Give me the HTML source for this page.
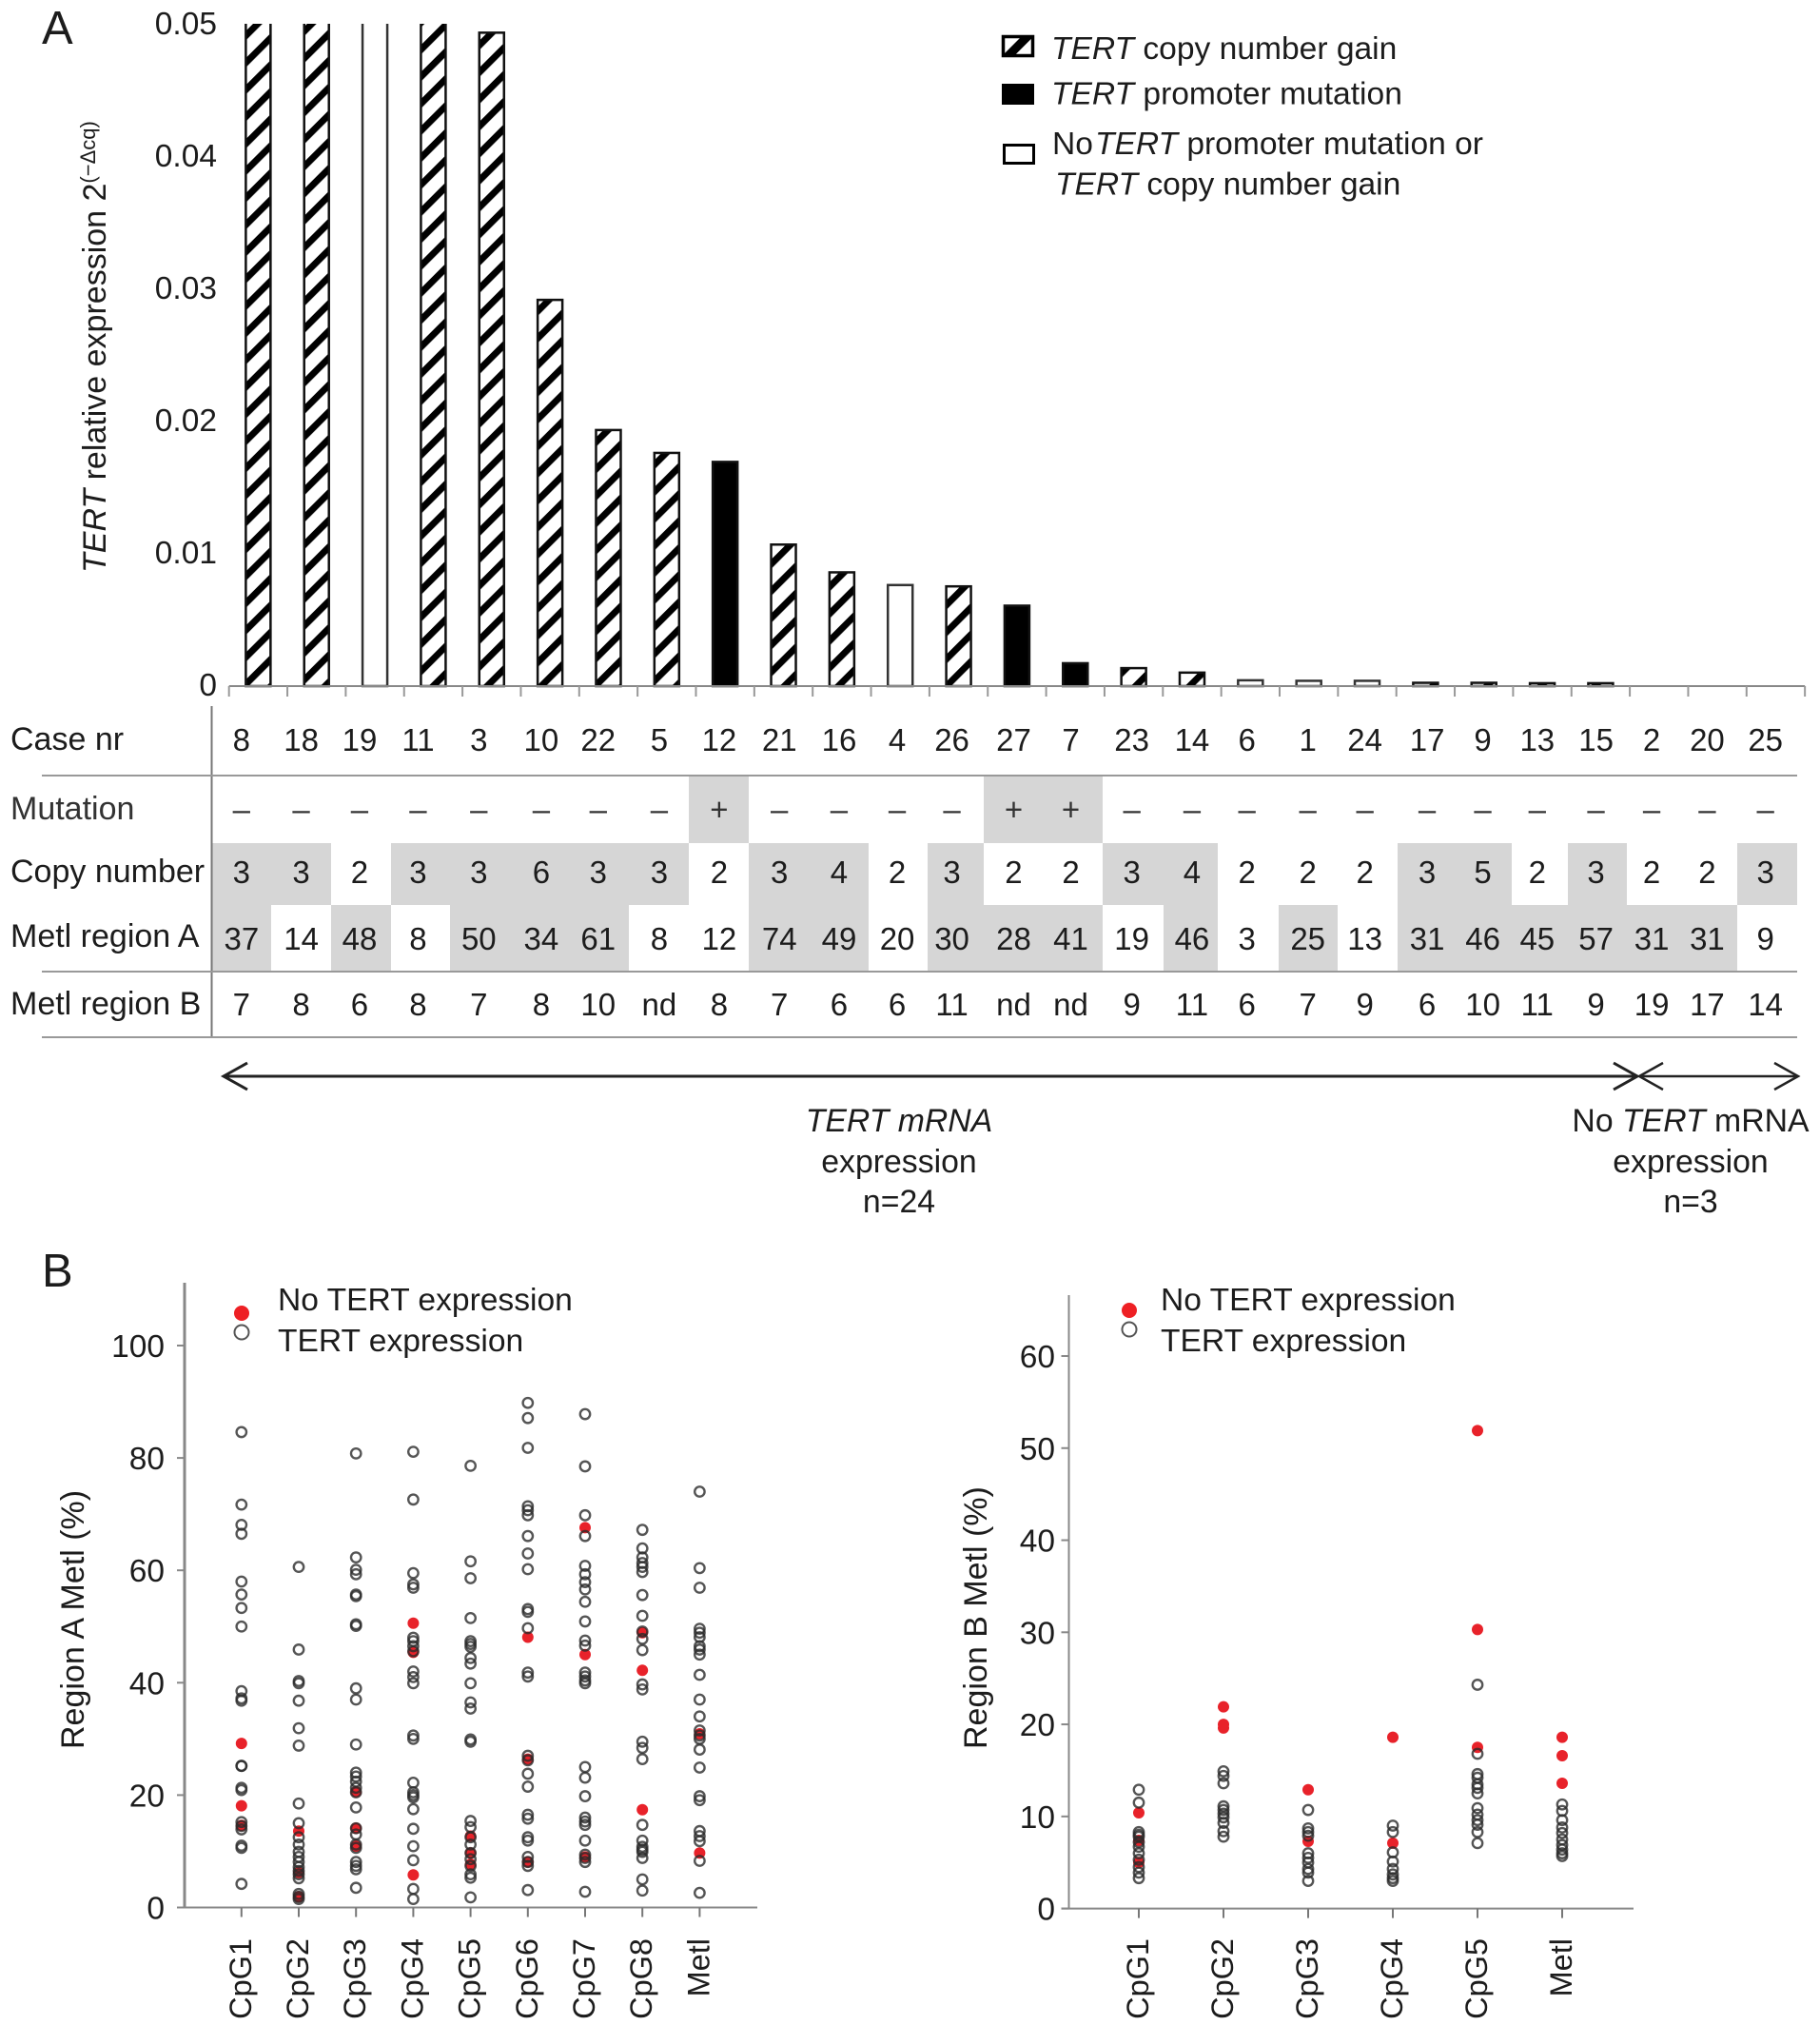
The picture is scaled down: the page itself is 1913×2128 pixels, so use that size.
<!DOCTYPE html>
<html lang="en">
<head>
<meta charset="utf-8">
<title>TERT expression and methylation</title>
<style>
html,body{margin:0;padding:0;background:#fff;}
#page{position:relative;width:1913px;height:2128px;overflow:hidden;background:#fff;font-family:"Liberation Sans",Arial,sans-serif;color:#1c1c1c;}
#figure{position:absolute;left:0;top:0;z-index:2;pointer-events:none;}
text{font-family:"Liberation Sans",Arial,sans-serif;fill:#1c1c1c;font-size:33.5px;}
#data-table{position:absolute;left:0;top:742px;border-collapse:collapse;border-spacing:0;table-layout:fixed;width:1889px;font-size:33px;z-index:1;}
#data-table td{padding:0;text-align:center;white-space:nowrap;overflow:visible;vertical-align:middle;}
#data-table td.l{text-align:left;padding-left:11px;font-size:34px;}
#data-table td.s{background:#d6d6d6;}
#data-table td span{position:relative;display:block;}
tr.r1{height:73px;} tr.r2{height:71px;} tr.r3{height:65px;} tr.r4{height:70px;} tr.r5{height:69px;}
tr.r1 span{top:-1px;} tr.r2 span{top:0;} tr.r3 span{top:-2px;} tr.r4 td span{top:0.5px;} tr.r4 td.l span{top:-2px;} tr.r5 span{top:0;}
tr.r2 td{color:#333;}
td:nth-child(4) span{left:-1.4px;} td:nth-child(5) span{left:-2.7px;} td:nth-child(6) span{left:-1.4px;} td:nth-child(7) span{left:1.4px;}
td:nth-child(8) span{left:-1.4px;} td:nth-child(13) span{left:-1px;} td:nth-child(14) span{left:-4px;} td:nth-child(16) span{left:-2.7px;}
td:nth-child(17) span{left:-1.4px;} td:nth-child(18) span{left:1.4px;} td:nth-child(19) span{left:-1.4px;} td:nth-child(21) span{left:-2.7px;}
td:nth-child(22) span{left:1.4px;} td:nth-child(24) span{left:-2.7px;} td:nth-child(25) span{left:-1.4px;} td:nth-child(26) span{left:-2.7px;}
td:nth-child(27) span{left:-2.7px;} td:nth-child(28) span{left:-2px;}
</style>
</head>
<body>
<div id="page">

<table id="data-table">
<colgroup>
<col style="width:222.3px"><col style="width:63.1px"><col style="width:62.4px"><col style="width:63.1px"><col style="width:62.5px"><col style="width:62.6px"><col style="width:63px"><col style="width:62.4px"><col style="width:63px"><col style="width:63.1px"><col style="width:63.5px"><col style="width:62px"><col style="width:62.2px"><col style="width:58.8px"><col style="width:63px"><col style="width:62.5px"><col style="width:63.2px"><col style="width:57.8px"><col style="width:63.2px"><col style="width:62.1px"><col style="width:63.2px"><col style="width:59.6px"><col style="width:60.2px"><col style="width:59.6px"><col style="width:61.4px"><col style="width:58.2px"><col style="width:58.5px"><col style="width:62.5px">
</colgroup>
<tr class="r1">
<td class="l"><span>Case nr</span></td>
<td><span>8</span></td><td><span>18</span></td><td><span>19</span></td><td><span>11</span></td><td><span>3</span></td><td><span>10</span></td><td><span>22</span></td><td><span>5</span></td><td><span>12</span></td><td><span>21</span></td><td><span>16</span></td><td><span>4</span></td><td><span>26</span></td><td><span>27</span></td><td><span>7</span></td><td><span>23</span></td><td><span>14</span></td><td><span>6</span></td><td><span>1</span></td><td><span>24</span></td><td><span>17</span></td><td><span>9</span></td><td><span>13</span></td><td><span>15</span></td><td><span>2</span></td><td><span>20</span></td><td><span>25</span></td>
</tr>
<tr class="r2">
<td class="l"><span>Mutation</span></td>
<td><span>–</span></td><td><span>–</span></td><td><span>–</span></td><td><span>–</span></td><td><span>–</span></td><td><span>–</span></td><td><span>–</span></td><td><span>–</span></td><td class="s"><span>+</span></td><td><span>–</span></td><td><span>–</span></td><td><span>–</span></td><td><span>–</span></td><td class="s"><span>+</span></td><td class="s"><span>+</span></td><td><span>–</span></td><td><span>–</span></td><td><span>–</span></td><td><span>–</span></td><td><span>–</span></td><td><span>–</span></td><td><span>–</span></td><td><span>–</span></td><td><span>–</span></td><td><span>–</span></td><td><span>–</span></td><td><span>–</span></td>
</tr>
<tr class="r3">
<td class="l"><span>Copy number</span></td>
<td class="s"><span>3</span></td><td class="s"><span>3</span></td><td><span>2</span></td><td class="s"><span>3</span></td><td class="s"><span>3</span></td><td class="s"><span>6</span></td><td class="s"><span>3</span></td><td class="s"><span>3</span></td><td><span>2</span></td><td class="s"><span>3</span></td><td class="s"><span>4</span></td><td><span>2</span></td><td class="s"><span>3</span></td><td><span>2</span></td><td><span>2</span></td><td class="s"><span>3</span></td><td class="s"><span>4</span></td><td><span>2</span></td><td><span>2</span></td><td><span>2</span></td><td class="s"><span>3</span></td><td class="s"><span>5</span></td><td><span>2</span></td><td class="s"><span>3</span></td><td><span>2</span></td><td><span>2</span></td><td class="s"><span>3</span></td>
</tr>
<tr class="r4">
<td class="l"><span>Metl region A</span></td>
<td class="s"><span>37</span></td><td><span>14</span></td><td class="s"><span>48</span></td><td><span>8</span></td><td class="s"><span>50</span></td><td class="s"><span>34</span></td><td class="s"><span>61</span></td><td><span>8</span></td><td><span>12</span></td><td class="s"><span>74</span></td><td class="s"><span>49</span></td><td><span>20</span></td><td class="s"><span>30</span></td><td class="s"><span>28</span></td><td class="s"><span>41</span></td><td><span>19</span></td><td class="s"><span>46</span></td><td><span>3</span></td><td class="s"><span>25</span></td><td><span>13</span></td><td class="s"><span>31</span></td><td class="s"><span>46</span></td><td class="s"><span>45</span></td><td class="s"><span>57</span></td><td class="s"><span>31</span></td><td class="s"><span>31</span></td><td><span>9</span></td>
</tr>
<tr class="r5">
<td class="l"><span>Metl region B</span></td>
<td><span>7</span></td><td><span>8</span></td><td><span>6</span></td><td><span>8</span></td><td><span>7</span></td><td><span>8</span></td><td><span>10</span></td><td><span>nd</span></td><td><span>8</span></td><td><span>7</span></td><td><span>6</span></td><td><span>6</span></td><td><span>11</span></td><td><span>nd</span></td><td><span>nd</span></td><td><span>9</span></td><td><span>11</span></td><td><span>6</span></td><td><span>7</span></td><td><span>9</span></td><td><span>6</span></td><td><span>10</span></td><td><span>11</span></td><td><span>9</span></td><td><span>19</span></td><td><span>17</span></td><td><span>14</span></td>
</tr>
</table>

<svg id="figure" width="1913" height="2128" viewBox="0 0 1913 2128" xmlns="http://www.w3.org/2000/svg">
<defs>
<pattern id="hatch" patternUnits="userSpaceOnUse" width="20.08" height="20.08" patternTransform="translate(7 0) rotate(45)">
<rect x="0" y="0" width="7" height="20.08" fill="#000"></rect>
</pattern>
<pattern id="legend-hatch" patternUnits="userSpaceOnUse" width="32" height="32" patternTransform="translate(1112 0) rotate(45)">
<rect x="0" y="0" width="9" height="32" fill="#000"></rect>
</pattern>
<clipPath id="bars-clip"><rect x="230" y="25" width="1680" height="700"></rect></clipPath>
</defs>

<text x="44" y="46" style="font-size:49px">A</text>
<text x="44" y="1352" style="font-size:49px">B</text>

<g id="chart-a">
<g id="bars" clip-path="url(#bars-clip)"></g>
<g id="axis-a"></g>
<text transform="translate(111 602) rotate(-90)" style="font-size:34px"><tspan font-style="italic">TERT</tspan> relative expression 2<tspan dy="-11" style="font-size:22px">(−Δcq)</tspan></text>
</g>

<g id="legend-a">
<g>
<rect x="1054.5" y="38.5" width="31" height="20" fill="#fff" stroke="none"></rect>
<rect x="1054.5" y="38.5" width="31" height="20" fill="url(#legend-hatch)" stroke="#000" stroke-width="3.5"></rect>
<text x="1105" y="62" style="font-size:33.6px"><tspan font-style="italic">TERT</tspan> copy number gain</text>
</g>
<g>
<rect x="1053" y="88" width="34" height="22" fill="#000"></rect>
<text x="1105" y="109.5" style="font-size:33.6px"><tspan font-style="italic">TERT</tspan> promoter mutation</text>
</g>
<g>
<rect x="1055.5" y="152.5" width="31" height="19" fill="#fff" stroke="#000" stroke-width="3"></rect>
<text x="1106" y="162" style="font-size:33.6px">No<tspan font-style="italic" dx="2">TERT</tspan> promoter mutation or</text>
<text x="1109" y="204.5" style="font-size:33.6px"><tspan font-style="italic">TERT</tspan> copy number gain</text>
</g>
</g>

<g stroke="#999" stroke-width="2">
<line x1="222.5" y1="742" x2="222.5" y2="1090" stroke="#777"></line>
<line x1="44" y1="815" x2="1889" y2="815"></line>
<line x1="44" y1="1021" x2="1889" y2="1021"></line>
<line x1="44" y1="1090" x2="1889" y2="1090"></line>
</g>

<g fill="none" stroke="#222" stroke-width="3">
<line x1="235" y1="1131" x2="1721" y2="1131"></line>
<polyline points="260,1117 235,1131 260,1145"></polyline>
<polyline points="1696,1117 1721,1131 1696,1145"></polyline>
<line x1="1723" y1="1131" x2="1890" y2="1131" stroke-width="2.5"></line>
<polyline points="1748,1117 1723,1131 1748,1145" stroke-width="2.5"></polyline>
<polyline points="1865,1117 1890,1131 1865,1145" stroke-width="2.5"></polyline>
</g>

<g text-anchor="middle">
<text x="945" y="1189" font-style="italic" style="font-size:33.8px">TERT mRNA</text>
<text x="945" y="1232" style="font-size:33.8px">expression</text>
<text x="945" y="1274" style="font-size:33.8px">n=24</text>
</g>
<g text-anchor="middle">
<text x="1777" y="1189" style="font-size:33.8px">No <tspan font-style="italic">TERT</tspan> mRNA</text>
<text x="1777" y="1232" style="font-size:33.8px">expression</text>
<text x="1777" y="1274" style="font-size:33.8px">n=3</text>
</g>

<g id="chart-b1"></g>
<g id="chart-b2"></g>

<text transform="translate(88 1838) rotate(-90)" style="font-size:34px">Region A Metl (%)</text>
<text transform="translate(1037 1838) rotate(-90)" style="font-size:34px">Region B Metl (%)</text>

<g>
<circle cx="254" cy="1380" r="8" fill="#ee2024"></circle>
<circle cx="254" cy="1400" r="7.5" fill="none" stroke="#555" stroke-width="2"></circle>
<text x="292" y="1377" style="font-size:33.6px">No TERT expression</text>
<text x="292" y="1420" style="font-size:33.6px">TERT expression</text>
</g>
<g>
<circle cx="1187" cy="1377" r="8" fill="#ee2024"></circle>
<circle cx="1187" cy="1397" r="7.5" fill="none" stroke="#555" stroke-width="2"></circle>
<text x="1220" y="1377" style="font-size:33.6px">No TERT expression</text>
<text x="1220" y="1420" style="font-size:33.6px">TERT expression</text>
</g>
</svg>
</div>

<script>
const SVGNS = 'http://www.w3.org/2000/svg';

// Panel A data
const caseNumbers = ['8','18','19','11','3','10','22','5','12','21','16','4','26','27','7','23','14','6','1','24','17','9','13','15','2','20','25'];
const expressionValues = [0.0505,0.0505,0.07,0.0503,0.0494,0.0292,0.01936,0.01763,0.01695,0.0107,0.0086,0.00764,0.00754,0.00608,0.00173,0.00136,0.00102,0.00044,0.0004,0.0004,0.00025,0.00025,0.00022,0.00022,0,0,0];
const barCategories = ['gain','gain','neither','gain','gain','gain','gain','gain','mutation','gain','gain','neither','gain','mutation','mutation','gain','gain','neither','neither','neither','gain','gain','gain','gain','neither','neither','gain'];
const expressionTicks = [0,0.01,0.02,0.03,0.04,0.05];
const expressionTickLabels = ['0','0.01','0.02','0.03','0.04','0.05'];

// Panel B, region A data
const regionACategories = ['CpG1','CpG2','CpG3','CpG4','CpG5','CpG6','CpG7','CpG8','Metl'];
const regionATicks = [0,20,40,60,80,100];
const regionAExpressing = [
[84.6,71.7,68.1,66.5,58,55.7,53.3,50,38.5,37.2,36.8,25.2,25.2,21.3,20.9,15.2,14.5,13.9,11,10.6,4.2],
[60.6,45.9,40.3,39.9,36.8,31.9,28.8,18.5,15,12.5,11.2,9.9,9,8.1,7.2,6.5,5.9,5.2,2.4,1.9,1.5],
[80.8,62.3,60.1,59.3,55.7,55.4,50.4,50.1,39,37,29,24,23.3,22.4,21.3,20.5,17.8,14.1,13,11.2,10.6,8.1,7.4,6.8,3.5],
[81.1,72.6,59.5,57.5,56.9,48,47.4,46.5,45.6,42,41,39.9,30.6,30,22.2,20.5,20,19.6,17.5,14,10.9,8.4,3.3,1.5],
[78.6,61.6,58.6,51.5,47.4,46.9,46.4,44.4,43.4,39.9,36.5,35.4,29.9,29.5,15.4,14.3,12.5,11.2,9.7,8.6,7.4,5.9,5.3,1.8],
[89.8,87.1,81.8,71.4,70.7,69.8,66.1,63,60.2,53.1,52.6,49.7,41.8,41.1,27,26.2,23.8,21.5,16.5,15.8,12.5,11.9,9,8.1,7.4,3.1],
[87.8,78.5,69.8,66.1,60.8,59.3,57.9,56.6,54.4,50.9,47.5,46.6,41.8,41.1,40.4,39.9,25,23.1,19.8,16,15.3,14.7,11.9,9.4,8.8,8.1,2.8],
[67.2,63.9,62.3,61.3,60.6,59.7,55.6,51.9,49.1,47.8,45.8,39.7,38.8,29.5,28.4,26.4,14.7,11.9,10.8,10.3,9.9,8.8,5,3],
[74,60.4,56.9,49.6,48.9,48.1,46.5,45.9,45,41.4,37,34,31.5,30.6,30,28.1,24.9,19.8,19.1,13.6,12.7,11.8,8.3,2.6]
];
const regionANoExpression = [
[29.2,18.1,14.6],
[13.6,6.2,1.9],
[20.6,14.1,10.9],
[50.6,45.4,5.8],
[12.7,9.7,7.7],
[48.1,26.4,8.1],
[67.6,45,9],
[48.9,42.2,17.4],
[30.9,9.7]
];

// Panel B, region B data
const regionBCategories = ['CpG1','CpG2','CpG3','CpG4','CpG5','Metl'];
const regionBTicks = [0,10,20,30,40,50,60];
const regionBExpressing = [
[12.9,11.5,8.3,8,7.8,7.2,6.7,6,5.3,4.5,3.9,3.3],
[14.9,14.4,13.6,11.1,10.7,10.3,9.9,9.3,8.4,7.8],
[10.7,8.7,8.3,7.9,6,5.5,5,4.3,3.9,3],
[9,8.3,6.1,5.1,4.3,3.7,3.3,3],
[24.3,16.8,14.6,14.2,13.5,13.1,12.5,10.9,10.2,9.6,9.1,8.3,7.1],
[11.3,10.6,9.6,8.8,8.2,7.5,6.9,6.4,6,5.7]
];
const regionBNoExpression = [
[10.4,7.4,5],
[21.9,20,19.6],
[12.9,7.3],
[18.6,7.1],
[51.9,30.3,17.5],
[18.6,16.6,13.6]
];

function make(tag, attrs, parent, text) {
  const el = document.createElementNS(SVGNS, tag);
  for (const k in attrs) el.setAttribute(k, attrs[k]);
  if (text !== undefined) el.textContent = text;
  parent.appendChild(el);
  return el;
}

// ---- Panel A scales ----
const aLeft = 240.7, aStep = 61.35, aBase = 721, aTop = 26, aMax = 0.05;
function aX(i) { return aLeft + aStep * (i + 0.5); }
function aY(v) { return aBase - (v / aMax) * (aBase - aTop); }

const barsG = document.getElementById('bars');
expressionValues.forEach(function (v, i) {
  if (v <= 0) return;
  const type = barCategories[i];
  const y = aY(v);
  const x = aX(i) - 13;
  const w = 26;
  const h = aBase - y;
  const bg = make('rect', {x: x, y: y, width: w, height: h, fill: type === 'mutation' ? '#000' : '#fff'}, barsG);
  
  
  const bar = make('rect', {x: x, y: y, width: w, height: h, fill: type === 'gain' ? 'url(#hatch)' : (type === 'mutation' ? '#000' : '#fff'), stroke: type === 'neither' ? '#333' : '#111', 'stroke-width': 2.5}, barsG);
  
  
});

const axisA = document.getElementById('axis-a');
const xLine = make('line', {x1: aLeft, y1: aBase, x2: aLeft + aStep * caseNumbers.length, y2: aBase, stroke: '#888', 'stroke-width': 2}, axisA);


for (let i = 0; i <= caseNumbers.length; i++) {
  const t = make('line', {x1: aLeft + aStep * i, y1: aBase, x2: aLeft + aStep * i, y2: aBase + 11, stroke: '#999', 'stroke-width': 2}, axisA);
  
  
}
expressionTicks.forEach(function (v, i) {
  const lab = make('text', {x: 228, y: aY(v) + 10, 'text-anchor': 'end'}, axisA, expressionTickLabels[i]);
  
  
});

// ---- Panel B ----
function scatter(cfg) {
  const g = document.getElementById(cfg.id);
  function y(v) { return cfg.y0 - (v / cfg.tickMax) * (cfg.y0 - cfg.yMaxPx); }
  function x(i) { return cfg.x0 + cfg.step * i; }

  const yAxis = make('line', {x1: cfg.axisX, y1: cfg.axisTop, x2: cfg.axisX, y2: cfg.y0, stroke: '#888', 'stroke-width': cfg.axisWidth}, g);
  
  
  const xAxis = make('line', {x1: cfg.axisX - 8, y1: cfg.y0, x2: cfg.axisEnd, y2: cfg.y0, stroke: '#888', 'stroke-width': 2}, g);
  
  

  cfg.ticks.forEach(function (v) {
    const t = make('line', {x1: cfg.axisX - 8, y1: y(v), x2: cfg.axisX, y2: y(v), stroke: '#888', 'stroke-width': 2}, g);
    
    
    const lab = make('text', {x: cfg.labelX, y: y(v) + 12, 'text-anchor': 'end'}, g, String(v));
    
    
  });

  cfg.categories.forEach(function (c, i) {
    const t = make('line', {x1: x(i), y1: cfg.y0, x2: x(i), y2: cfg.y0 + 10, stroke: '#777', 'stroke-width': 2}, g);
    
    
    const lab = make('text', {transform: 'translate(' + (x(i) + 10) + ' 2037) rotate(-90)', 'text-anchor': 'end', style: 'font-size:32.5px'}, g, c);
    
    

    cfg.red[i].forEach(function (v) {
      const p = make('circle', {cx: x(i), cy: y(v), r: 6, fill: '#e8222a'}, g);
      
      
    });
    cfg.open[i].forEach(function (v) {
      const p = make('circle', {cx: x(i), cy: y(v), r: 5.2, fill: 'none', stroke: '#2a2a2a', 'stroke-opacity': 0.8, 'stroke-width': 2.4}, g);
      
      
    });
  });
}

scatter({id: 'chart-b1', x0: 253.8, step: 60.2, y0: 2004.5, yMaxPx: 1414, tickMax: 100, axisX: 194, axisTop: 1348, axisEnd: 796, axisWidth: 3, labelX: 173,
  ticks: regionATicks, categories: regionACategories, open: regionAExpressing, red: regionANoExpression});
scatter({id: 'chart-b2', x0: 1197, step: 89, y0: 2005.6, yMaxPx: 1425, tickMax: 60, axisX: 1123.5, axisTop: 1361, axisEnd: 1717, axisWidth: 2, labelX: 1109,
  ticks: regionBTicks, categories: regionBCategories, open: regionBExpressing, red: regionBNoExpression});
</script>
</body>
</html>
